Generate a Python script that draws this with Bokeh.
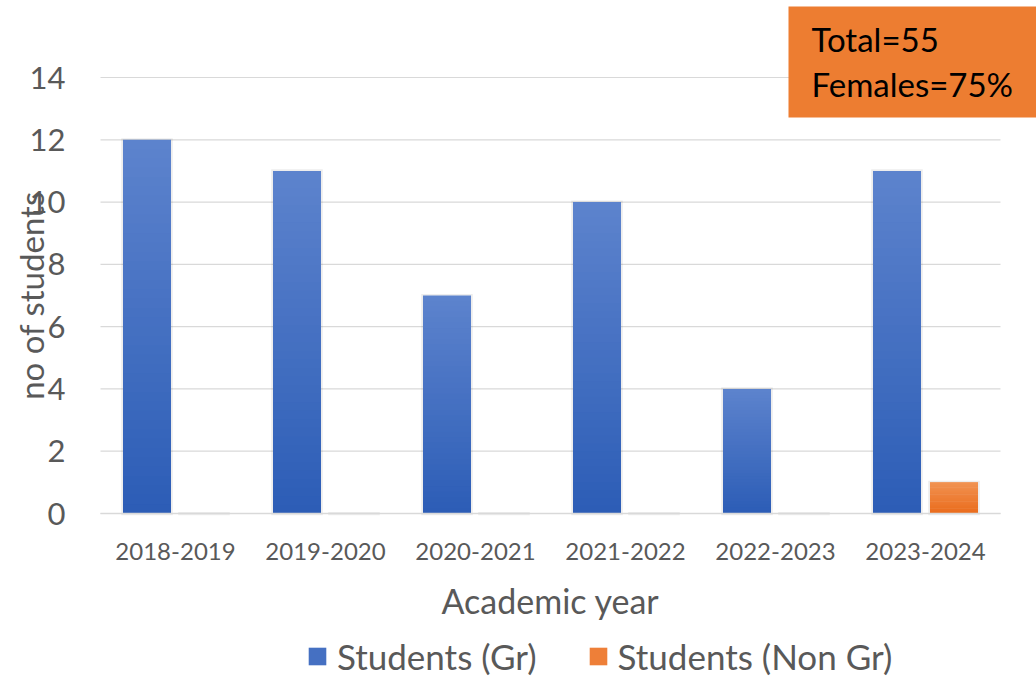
import math
from bokeh.plotting import figure
from bokeh.models import (Range1d, FixedTicker, Label, BoxAnnotation, Legend, LegendItem,
                          ColumnDataSource)
from bokeh.embed import file_html
from bokeh.resources import INLINE

# ---- data ----
years = ["2018-2019", "2019-2020", "2020-2021", "2021-2022", "2022-2023", "2023-2024"]
students_gr = [12, 11, 7, 10, 4, 11]
students_non_gr = [0, 0, 0, 0, 0, 1]
y_ticks = [0, 2, 4, 6, 8, 10, 12, 14]
box_lines = ["Total=55", "Females=75%"]
series_names = ["Students (Gr)", "Students (Non Gr)"]
x_title = "Academic year"
y_title = "no of students"

FONT = "Lato"
GREY = "#595959"

blue_top, blue_bot = (93, 131, 205), (44, 93, 182)
orange_top, orange_bot = (241, 146, 82), (234, 108, 28)

def hexc(c):
    return "#%02x%02x%02x" % tuple(int(round(v)) for v in c)

def gradient_source(values, offset, width, ctop, cbot, n=40):
    L, R, B, T, C = [], [], [], [], []
    for i, v in enumerate(values):
        if v <= 0:
            continue
        cx = i + 0.5 + offset
        for k in range(n):
            t = (k + 0.5) / n  # 0 bottom, 1 top
            col = tuple(cbot[j] + (ctop[j] - cbot[j]) * t for j in range(3))
            L.append(cx - width / 2)
            R.append(cx + width / 2)
            B.append(v * k / n)
            T.append(min(v, v * (k + 1) / n + 0.8 * v / n))
            C.append(hexc(col))
    return ColumnDataSource(dict(left=L, right=R, bottom=B, top=T, color=C))

def shadow_source(values, offset, width):
    L, R, B, T = [], [], [], []
    for i, v in enumerate(values):
        cx = i + 0.5 + offset
        L.append(cx - width / 2 - 0.012)
        R.append(cx + width / 2 + 0.012)
        B.append(-0.06)
        T.append(v + 0.05)
    return ColumnDataSource(dict(left=L, right=R, bottom=B, top=T))

n_cat = len(years)
W, H = 1036, 678
# pixel geometry of the plotting area (category area 100..1000 px, value 0..14 -> 513..77 px)
PX_PER_CAT = 150.0
PX_PER_UNIT = (513 - 77) / 14.0
X_START = -100 / PX_PER_CAT
X_END = (W - 100) / PX_PER_CAT
Y_START = -(H - 513) / PX_PER_UNIT
Y_END = 14 + 77 / PX_PER_UNIT

p = figure(width=W, height=H, output_backend="svg", toolbar_location=None, title=None,
           x_range=Range1d(X_START, X_END), y_range=Range1d(Y_START, Y_END),
           min_border_left=0, min_border_right=0, min_border_top=0, min_border_bottom=0)
p.outline_line_color = None
p.background_fill_color = "white"
p.border_fill_color = "white"

# horizontal gridlines spanning only the category area
p.segment(x0=[0] * len(y_ticks), x1=[n_cat] * len(y_ticks), y0=y_ticks, y1=y_ticks,
          line_color="#d9d9d9", line_width=1.2)

BW = 0.32
OFF = 0.19
for vals, off in ((students_gr, -OFF), (students_non_gr, OFF)):
    p.quad(left="left", right="right", bottom="bottom", top="top",
           source=shadow_source(vals, off, BW), fill_color="#000000", fill_alpha=0.07,
           line_color=None)

src_b = gradient_source(students_gr, -OFF, BW, blue_top, blue_bot)
src_o = gradient_source(students_non_gr, OFF, BW, orange_top, orange_bot)
rb = p.quad(left="left", right="right", bottom="bottom", top="top", source=src_b,
            fill_color="color", line_color=None)
ro = p.quad(left="left", right="right", bottom="bottom", top="top", source=src_o,
            fill_color="color", line_color=None)

# axes (fixed inside the frame)
p.xaxis.fixed_location = 0
p.xaxis.ticker = FixedTicker(ticks=[i + 0.5 for i in range(n_cat)])
p.xaxis.major_label_overrides = {i + 0.5: y for i, y in enumerate(years)}
p.xaxis.bounds = (0, n_cat)
p.xaxis.major_label_text_font = FONT
p.xaxis.major_label_text_font_size = "24px"
p.xaxis.major_label_text_color = GREY
p.xaxis.major_label_standoff = 23
p.xaxis.major_tick_line_color = None
p.xaxis.minor_tick_line_color = None
p.xaxis.axis_line_color = "#d9d9d9"
p.xaxis.axis_line_width = 1.5

p.yaxis.fixed_location = 0
p.yaxis.ticker = FixedTicker(ticks=y_ticks)
p.yaxis.bounds = (0, 14)
p.yaxis.major_label_text_font = FONT
p.yaxis.major_label_text_font_size = "31px"
p.yaxis.major_label_text_color = GREY
p.yaxis.major_label_standoff = 29
p.yaxis.major_tick_line_color = None
p.yaxis.minor_tick_line_color = None
p.yaxis.axis_line_color = None

p.xgrid.visible = False
p.ygrid.visible = False

# axis titles
p.add_layout(Label(x=-70 / PX_PER_CAT, y=7, text=y_title, angle=math.pi / 2,
                   text_align="center", text_baseline="middle", text_font=FONT,
                   text_font_size="33px", text_color=GREY))
p.add_layout(Label(x=n_cat / 2, y=-87 / PX_PER_UNIT, text=x_title,
                   text_align="center", text_baseline="middle", text_font=FONT,
                   text_font_size="34px", text_color=GREY))

# orange info box
p.add_layout(BoxAnnotation(left=688 / PX_PER_CAT, right=X_END + 1,
                           bottom=14 - 40 / PX_PER_UNIT, top=14 + 71 / PX_PER_UNIT,
                           fill_color="#ED7D31", fill_alpha=1.0, line_color=None))
p.add_layout(Label(x=711 / PX_PER_CAT, y=14 + 39 / PX_PER_UNIT, text=box_lines[0],
                   text_font=FONT, text_font_size="33px", text_color="#000000",
                   text_baseline="alphabetic"))
p.add_layout(Label(x=711 / PX_PER_CAT, y=14 - 6 / PX_PER_UNIT, text=box_lines[1],
                   text_font=FONT, text_font_size="33px", text_color="#000000",
                   text_baseline="alphabetic"))

# legend
legend = Legend(items=[LegendItem(label=series_names[0], renderers=[rb], index=20),
                       LegendItem(label=series_names[1], renderers=[ro], index=20)],
                orientation="horizontal", location=(306, 1),
                glyph_width=22, glyph_height=22, label_standoff=9, spacing=50,
                padding=0, margin=0, border_line_color=None, background_fill_alpha=0,
                label_text_font=FONT, label_text_font_size="35px", label_text_color=GREY)
p.add_layout(legend, "center")

open("out.html", "w").write(file_html(p, INLINE))
